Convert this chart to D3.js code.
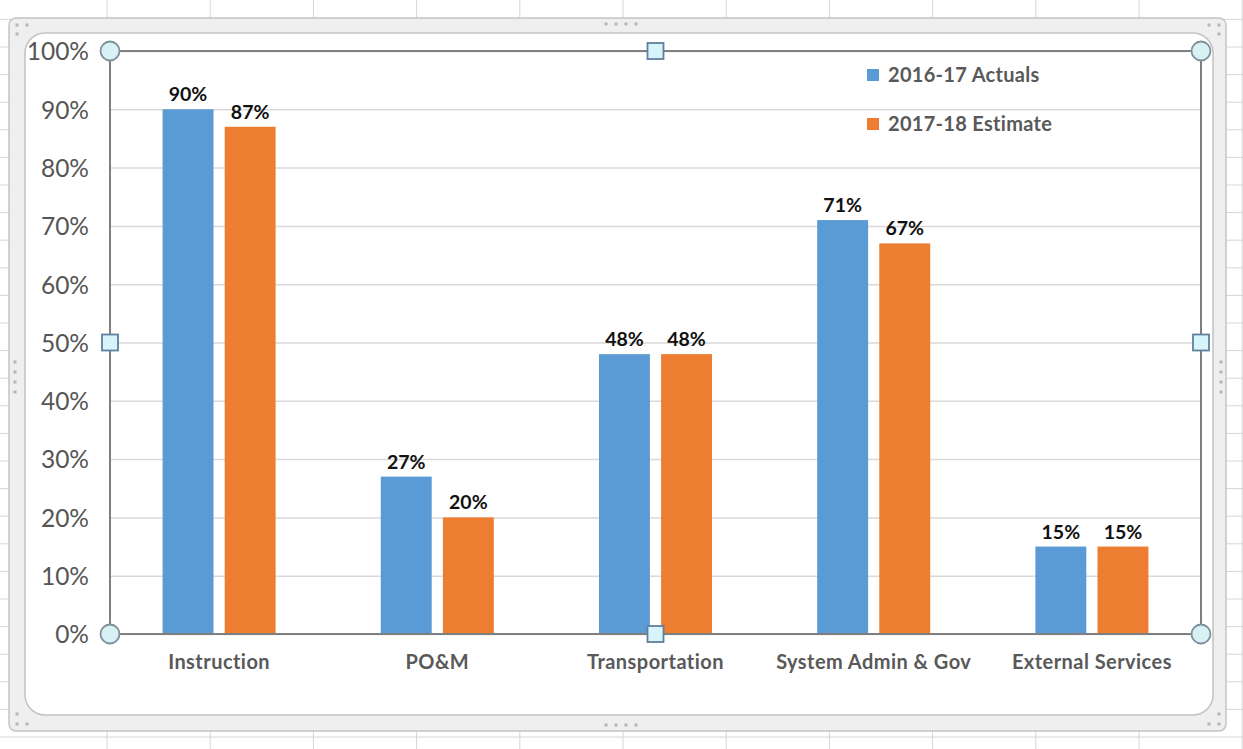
<!DOCTYPE html>
<html>
<head>
<meta charset="utf-8">
<script src="https://cdn.jsdelivr.net/npm/d3@7"></script>
<style>
  html, body { margin: 0; padding: 0; background: #ffffff; }
  svg { display: block; }
  text { font-family: Lato, "Open Sans", sans-serif; }
</style>
</head>
<body>
<svg id="chart" width="1243" height="749"></svg>
<script>
// Cost recovery share by function
const categories = ["Instruction", "PO&M", "Transportation", "System Admin & Gov", "External Services"];
const seriesNames = ["2016-17 Actuals", "2017-18 Estimate"];
const actuals = [90, 27, 48, 71, 15];
const estimates = [87, 20, 48, 67, 15];
const yTickValues = [0, 10, 20, 30, 40, 50, 60, 70, 80, 90, 100];
const seriesColors = ["#5b9bd5", "#ed7d31"];

const W = 1243, H = 749;
const svg = d3.select("#chart");

// ---- worksheet grid behind the chart object ----
const sheet = svg.append("g");
const colLines = d3.range(107, W + 1, 103.2);
const rowLines = d3.range(737, -1, -27.6);
sheet.selectAll("line.col").data(colLines).join("line")
  .attr("x1", d => d).attr("x2", d => d).attr("y1", 0).attr("y2", H)
  .attr("stroke", "#d6d6d6").attr("stroke-width", 1);
sheet.selectAll("line.row").data(rowLines).join("line")
  .attr("x1", 0).attr("x2", W).attr("y1", d => d).attr("y2", d => d)
  .attr("stroke", "#d6d6d6").attr("stroke-width", 1);

// ---- chart object frame (selected) ----
const frame = svg.append("g");
frame.append("rect")
  .attr("x", 9).attr("y", 18).attr("width", 1217).attr("height", 713)
  .attr("rx", 7)
  .attr("fill", "#efefef").attr("stroke", "#c4c4c4").attr("stroke-width", 1.5);
frame.append("rect")
  .attr("x", 25).attr("y", 33).attr("width", 1188).attr("height", 682)
  .attr("rx", 20)
  .attr("fill", "#ffffff").attr("stroke", "#c2c2c2").attr("stroke-width", 1.5);

// grip dots on the frame
const grips = [];
[606, 616, 626, 636].forEach(x => { grips.push([x, 24]); grips.push([x, 725]); });
[362, 372, 382, 392].forEach(y => { grips.push([15, y]); grips.push([1221, y]); });
grips.push([17, 25], [27, 25], [17, 34]);
grips.push([17, 714], [17, 724], [27, 724]);
grips.push([1209, 25], [1219, 25], [1219, 34]);
grips.push([1219, 714], [1219, 724], [1209, 724]);
frame.selectAll("rect.grip").data(grips).join("rect")
  .attr("x", d => d[0] - 1.5).attr("y", d => d[1] - 1.5)
  .attr("width", 3).attr("height", 3)
  .attr("fill", "#b5b5b5");

// ---- plot area ----
const plot = { left: 110, right: 1201, top: 51, bottom: 634 };

const x0 = d3.scaleBand()
  .domain(categories)
  .range([plot.left, plot.right])
  .paddingInner(0.482)
  .paddingOuter(0.241);
const x1 = d3.scaleBand()
  .domain(seriesNames)
  .range([0, x0.bandwidth()])
  .paddingInner(0.18);
const y = d3.scaleLinear().domain([0, 100]).range([plot.bottom, plot.top]);

// horizontal gridlines
const grid = svg.append("g")
  .attr("transform", `translate(${plot.left},0)`)
  .call(d3.axisLeft(y).tickValues(yTickValues).tickSize(-(plot.right - plot.left)).tickFormat(""));
grid.select(".domain").remove();
grid.selectAll(".tick line").attr("stroke", "#d9d9d9").attr("stroke-width", 1.5);

// y-axis labels
const yAxis = svg.append("g")
  .attr("transform", `translate(${plot.left - 21},0)`)
  .call(d3.axisLeft(y).tickValues(yTickValues).tickSize(0).tickFormat(d => d + "%"));
yAxis.select(".domain").remove();
yAxis.selectAll(".tick text")
  .attr("x", 0).attr("dy", "0.36em")
  .attr("fill", "#555555")
  .style("font-family", "Lato, sans-serif")
  .style("font-size", "24.5px");

// bars
const rows = categories.map((c, i) => ({ category: c, values: [actuals[i], estimates[i]] }));
const groups = svg.append("g").selectAll("g").data(rows).join("g")
  .attr("transform", d => `translate(${x0(d.category)},0)`);
groups.selectAll("rect").data(d => d.values.map((v, j) => ({ series: seriesNames[j], value: v, j })))
  .join("rect")
  .attr("x", d => x1(d.series))
  .attr("y", d => y(d.value))
  .attr("width", x1.bandwidth())
  .attr("height", d => y(0) - y(d.value))
  .attr("fill", d => seriesColors[d.j]);

// data labels
groups.selectAll("text").data(d => d.values.map((v, j) => ({ series: seriesNames[j], value: v })))
  .join("text")
  .attr("x", d => x1(d.series) + x1.bandwidth() / 2)
  .attr("y", d => y(d.value) - 8)
  .attr("text-anchor", "middle")
  .attr("fill", "#111111")
  .style("font-size", "19.5px")
  .style("font-weight", "bold")
  .text(d => d.value + "%");

// category labels
const xAxis = svg.append("g")
  .attr("transform", `translate(0,${plot.bottom})`)
  .call(d3.axisBottom(x0).tickSize(0).tickPadding(0));
xAxis.select(".domain").remove();
xAxis.selectAll(".tick text")
  .attr("y", 28).attr("dy", "0.36em")
  .attr("fill", "#595959")
  .style("font-family", "Lato, sans-serif")
  .style("font-size", "20px")
  .style("letter-spacing", "0.45px")
  .style("font-weight", "bold");

// plot-area border (selected)
svg.append("rect")
  .attr("x", plot.left).attr("y", plot.top)
  .attr("width", plot.right - plot.left).attr("height", plot.bottom - plot.top)
  .attr("fill", "none").attr("stroke", "#7f7f7f").attr("stroke-width", 2);

// selection handles
const midX = (plot.left + plot.right) / 2, midY = (plot.top + plot.bottom) / 2;
const corners = [[plot.left, plot.top], [plot.right, plot.top], [plot.left, plot.bottom], [plot.right, plot.bottom]];
const sides = [[midX, plot.top], [midX, plot.bottom], [plot.left, midY], [plot.right, midY]];
svg.append("g").selectAll("circle").data(corners).join("circle")
  .attr("cx", d => d[0]).attr("cy", d => d[1]).attr("r", 9.5)
  .attr("fill", "#d8f1f4").attr("stroke", "#7d8f98").attr("stroke-width", 1.8);
svg.append("g").selectAll("rect").data(sides).join("rect")
  .attr("x", d => d[0] - 8).attr("y", d => d[1] - 8)
  .attr("width", 16).attr("height", 16)
  .attr("fill", "#d8f4fb").attr("stroke", "#5f7f9f").attr("stroke-width", 1.8);

// legend
const legend = svg.append("g").attr("transform", "translate(867,75)");
const items = legend.selectAll("g").data(seriesNames).join("g")
  .attr("transform", (d, i) => `translate(0,${i * 49})`);
items.append("rect")
  .attr("x", 0).attr("y", -6).attr("width", 12).attr("height", 12)
  .attr("fill", (d, i) => seriesColors[i]);
items.append("text")
  .attr("x", 21).attr("y", 0).attr("dy", "0.36em")
  .attr("fill", "#595959")
  .style("font-size", "20px")
  .style("letter-spacing", "0.3px")
  .style("font-weight", "bold")
  .text(d => d);
</script>
</body>
</html>
